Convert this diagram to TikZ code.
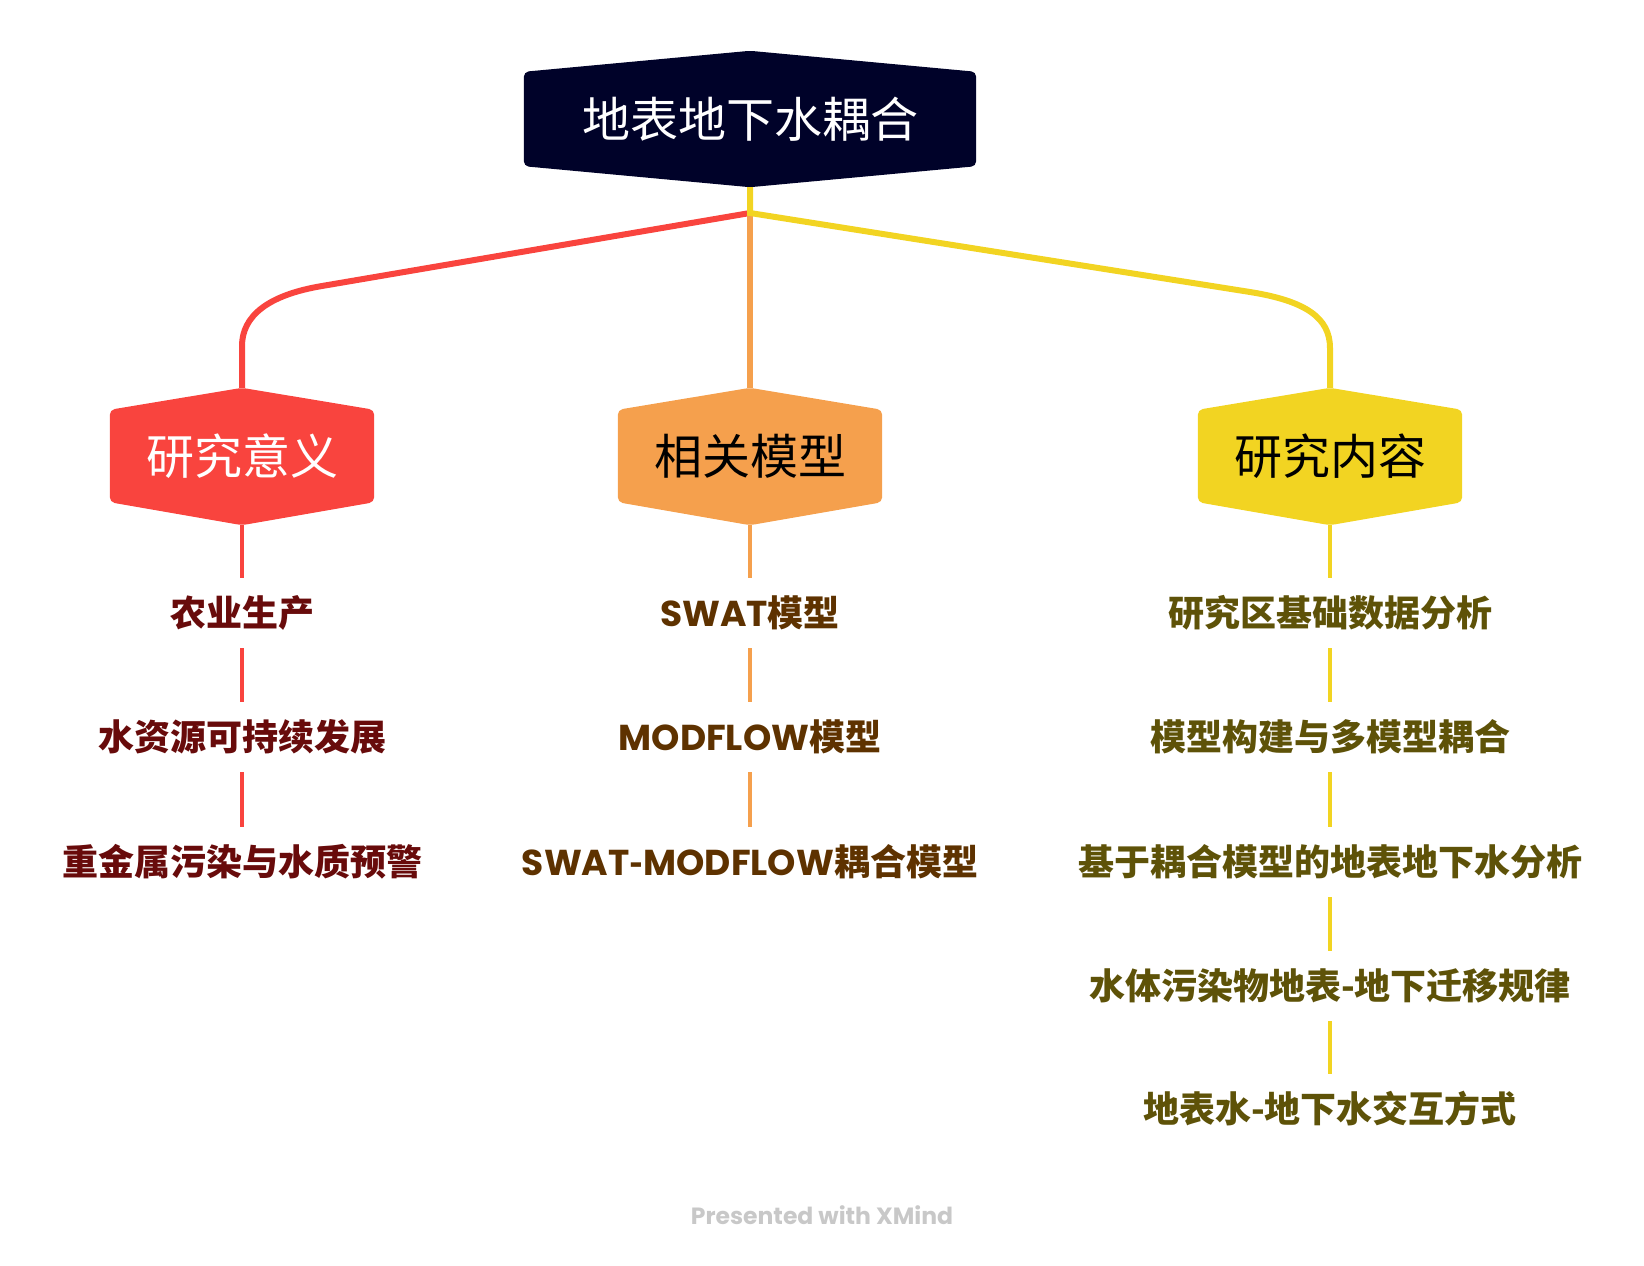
\documentclass[tikz,border=0pt]{standalone}
\usepackage{fontspec}
\newfontfamily\cjk{Noto Sans CJK SC}
\newfontfamily\lat{Poppins}
\newcommand\latb[1]{{\lat\bfseries #1}}
\usetikzlibrary{backgrounds}

\definecolor{rootfill}{HTML}{000229}
\definecolor{cred}{HTML}{F9443E}
\definecolor{corg}{HTML}{F5A04D}
\definecolor{cyel}{HTML}{F2D422}
\definecolor{tred}{HTML}{680B0B}
\definecolor{torg}{HTML}{5E3200}
\definecolor{tyel}{HTML}{5E5208}
\definecolor{wmgray}{HTML}{C8C8C8}

\tikzset{
  rootbox/.style={inner sep=0pt, minimum width=452pt, minimum height=94pt,
    text=white, font=\cjk\fontsize{48}{54}\selectfont},
  hexbox/.style={inner sep=0pt, minimum width=264pt, minimum height=92pt,
    font=\cjk\fontsize{48}{54}\selectfont},
  leaf/.style={inner sep=0pt, minimum height=70pt,
    font=\cjk\bfseries\fontsize{36}{40}\selectfont},
  branch/.style={line width=6pt},
  twig/.style={line width=3.6pt},
  hexfill/.style={rounded corners=5pt},
}

\begin{document}
\begin{tikzpicture}[x=1pt, y=-1pt]
\useasboundingbox (0,0) rectangle (1644,1266);

% root and main topics
\node[rootbox] (root) at (750,119) {地表地下水耦合};
\node[hexbox, text=white] (sig) at (242,456) {研究意义};
\node[hexbox, text=black] (mod) at (750,456) {相关模型};
\node[hexbox, text=black] (cnt) at (1330,456) {研究内容};

% subtopics: significance
\node[leaf, text=tred] (s1) at (242,613) {农业生产};
\node[leaf, text=tred] (s2) at (242,737) {水资源可持续发展};
\node[leaf, text=tred] (s3) at (242,862) {重金属污染与水质预警};

% subtopics: models
\node[leaf, text=torg] (m1) at (750,613) {\latb{SWAT}模型};
\node[leaf, text=torg] (m2) at (750,737) {\latb{MODFLOW}模型};
\node[leaf, text=torg] (m3) at (750,862) {\latb{SWAT}-\latb{MODFLOW}耦合模型};

% subtopics: contents
\node[leaf, text=tyel] (c1) at (1330,613) {研究区基础数据分析};
\node[leaf, text=tyel] (c2) at (1330,737) {模型构建与多模型耦合};
\node[leaf, text=tyel] (c3) at (1330,862) {基于耦合模型的地表地下水分析};
\node[leaf, text=tyel] (c4) at (1330,986) {水体污染物地表-地下迁移规律};
\node[leaf, text=tyel] (c5) at (1330,1109) {地表水-地下水交互方式};

% footer
\node[font=\lat\bfseries\fontsize{23.5}{27}\selectfont, text=wmgray] (wm) at (822,1215) {Presented with XMind};

\begin{scope}[on background layer]
  % branch connectors
  \coordinate (j) at (750,213);
  \draw[branch, cred] (j) -- (322,286) .. controls (268,295) and (242,316) .. (242,346)
    -- ([yshift=22pt]sig.north);
  \draw[branch, corg] (j) -- ([yshift=22pt]mod.north);
  \draw[branch, cyel] ([yshift=-21pt]root.south) -- (j) -- (1250,292)
    .. controls (1306,301) and (1330,318) .. (1330,348) -- ([yshift=22pt]cnt.north);

  % subtopic connectors
  \draw[twig, cred] ([yshift=-23pt]sig.south) -- (s1.north);
  \draw[twig, cred] (s1.south) -- (s2.north);
  \draw[twig, cred] (s2.south) -- (s3.north);
  \draw[twig, corg] ([yshift=-23pt]mod.south) -- (m1.north);
  \draw[twig, corg] (m1.south) -- (m2.north);
  \draw[twig, corg] (m2.south) -- (m3.north);
  \draw[twig, cyel] ([yshift=-23pt]cnt.south) -- (c1.north);
  \draw[twig, cyel] (c1.south) -- (c2.north);
  \draw[twig, cyel] (c2.south) -- (c3.north);
  \draw[twig, cyel] (c3.south) -- (c4.north);
  \draw[twig, cyel] (c4.south) -- (c5.north);

  % hexagon bodies
  \fill[rootfill, hexfill] (root.north west) -- ([yshift=21pt]root.north) -- (root.north east)
    -- (root.south east) -- ([yshift=-21pt]root.south) -- (root.south west) -- cycle;
  \fill[cred, hexfill] (sig.north west) -- ([yshift=22pt]sig.north) -- (sig.north east)
    -- (sig.south east) -- ([yshift=-23pt]sig.south) -- (sig.south west) -- cycle;
  \fill[corg, hexfill] (mod.north west) -- ([yshift=22pt]mod.north) -- (mod.north east)
    -- (mod.south east) -- ([yshift=-23pt]mod.south) -- (mod.south west) -- cycle;
  \fill[cyel, hexfill] (cnt.north west) -- ([yshift=22pt]cnt.north) -- (cnt.north east)
    -- (cnt.south east) -- ([yshift=-23pt]cnt.south) -- (cnt.south west) -- cycle;
\end{scope}
\end{tikzpicture}
\end{document}
